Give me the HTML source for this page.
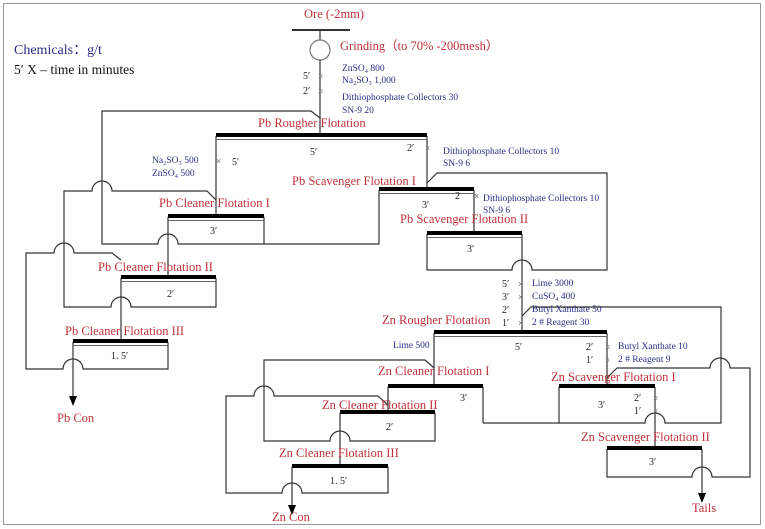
<!DOCTYPE html>
<html><head><meta charset="utf-8"><style>
html,body{margin:0;padding:0;background:#fff;}
svg{display:block;}
.r{fill:#c0303a;font-family:"Liberation Serif",serif;font-size:12.5px;}
.b{fill:#2b2b85;font-family:"Liberation Serif",serif;font-size:9.5px;}
.k{fill:#222;font-family:"Liberation Serif",serif;font-size:10px;}
.x{fill:#777;font-family:"Liberation Sans",sans-serif;font-size:9px;}
</style></head><body>
<svg width="765" height="529" viewBox="0 0 765 529" xmlns="http://www.w3.org/2000/svg">
<rect x="3.5" y="3.5" width="757" height="521" fill="#fff" stroke="#999" stroke-width="1"/>
<g fill="none" stroke="#333" stroke-width="1.2">
<line x1="292" y1="30" x2="350" y2="30" stroke-width="2"/>
<line x1="320" y1="30" x2="320" y2="40"/>
<circle cx="320" cy="50" r="10" stroke="#777"/>
<line x1="320" y1="60" x2="320" y2="136"/>
<line x1="216" y1="136" x2="216" y2="217"/>
<line x1="427" y1="136" x2="427" y2="190"/>
<path d="M320 118 L311 111 L102 111 L102 244 L158 244 A10 10 0 0 1 178 244 L379 244 L379 190"/>
<line x1="264" y1="217" x2="264" y2="244"/>
<line x1="168" y1="217" x2="168" y2="278"/>
<line x1="474" y1="190" x2="474" y2="234"/>
<path d="M427 183 L437 173 L607 173 L607 270 L532 270 A10 10 0 0 0 512 270 L427 270 L427 234"/>
<line x1="522" y1="234" x2="522" y2="333"/>
<path d="M216 200 L207 191 L112 191 A10 10 0 0 0 92 191 L64 191 L64 307 L111 307 A10 10 0 0 1 131 307 L216 307 L216 278"/>
<line x1="121" y1="278" x2="121" y2="342"/>
<path d="M121 260 L112 253 L74 253 A10 10 0 0 0 54 253 L26 253 L26 369 L63 369 A10 10 0 0 1 83 369 L168 369 L168 342"/>
<line x1="73" y1="342" x2="73" y2="398"/>
<line x1="434" y1="333" x2="434" y2="387"/>
<line x1="607" y1="333" x2="607" y2="387"/>
<path d="M522 316 L531 307 L721 307 L721 423 L665 423 A10 10 0 0 0 645 423 L559 423 L559 387"/>
<line x1="483" y1="387" x2="483" y2="423"/><line x1="483" y1="423" x2="559" y2="423"/>
<line x1="655" y1="387" x2="655" y2="449"/>
<path d="M607 378 L617 368 L710 368 A10 10 0 0 1 730 368 L750 368 L750 477 L712 477 A10 10 0 0 0 692 477 L607 477 L607 449"/>
<line x1="702" y1="449" x2="702" y2="495"/>
<path d="M434 368 L425 360 L264 360 L264 441 L330 441 A10 10 0 0 1 350 441 L435 441 L435 413"/>
<line x1="388" y1="387" x2="388" y2="413"/>
<line x1="340" y1="413" x2="340" y2="467"/>
<path d="M388 405 L378 396 L274 396 A10 10 0 0 0 254 396 L226 396 L226 493 L282 493 A10 10 0 0 1 302 493 L388 493 L388 467"/>
<line x1="292" y1="467" x2="292" y2="507"/>
</g>
<g fill="#000">
<rect x="216" y="133" width="211" height="4"/><rect x="216" y="139" width="211" height="1" fill="#666"/>
<rect x="379" y="187" width="95" height="4"/><rect x="379" y="193" width="95" height="1" fill="#666"/>
<rect x="168" y="214" width="96" height="4"/><rect x="168" y="220" width="96" height="1" fill="#666"/>
<rect x="427" y="231" width="95" height="4"/><rect x="427" y="237" width="95" height="1" fill="#666"/>
<rect x="121" y="275" width="95" height="4"/><rect x="121" y="281" width="95" height="1" fill="#666"/>
<rect x="73" y="339" width="95" height="4"/><rect x="73" y="345" width="95" height="1" fill="#666"/>
<rect x="434" y="330" width="173" height="4"/><rect x="434" y="336" width="173" height="1" fill="#666"/>
<rect x="388" y="384" width="95" height="4"/>
<rect x="559" y="384" width="96" height="4"/>
<rect x="340" y="410" width="95" height="4"/>
<rect x="607" y="446" width="95" height="4"/>
<rect x="292" y="464" width="96" height="4"/>
<polygon points="69,396 77,396 73,406"/>
<polygon points="288,505 296,505 292,515"/>
<polygon points="698,493 706,493 702,503"/>
</g>
<text x="14" y="54" style="font-family:'Liberation Serif',serif;font-size:14px;fill:#2b2b85">Chemicals：g/t</text>
<text x="14" y="74" style="font-family:'Liberation Serif',serif;font-size:13.5px;fill:#111">5′ X – time in minutes</text>
<text class="r" x="304" y="18">Ore (-2mm)</text>
<text class="r" x="340" y="50">Grinding（to 70% -200mesh）</text>
<text class="k" x="303" y="79">5′</text><text class="x" x="318" y="79">×</text>
<text class="k" x="303" y="94">2′</text><text class="x" x="318" y="94">×</text>
<text class="b" x="342" y="71">ZnSO₄  800</text>
<text class="b" x="342" y="83">Na₂SO₃  1,000</text>
<text class="b" x="342" y="100">Dithiophosphate Collectors 30</text>
<text class="b" x="342" y="113">SN-9  20</text>
<text class="r" x="258" y="127">Pb Rougher Flotation</text>
<text class="k" x="310" y="155">5′</text>
<text class="k" x="407" y="151">2′</text><text class="x" x="425" y="151">×</text>
<text class="b" x="443" y="154">Dithiophosphate Collectors 10</text>
<text class="b" x="443" y="166">SN-9   6</text>
<text class="b" x="152" y="163">Na₂SO₃ 500</text>
<text class="b" x="152" y="176">ZnSO₄ 500</text>
<text class="x" x="216" y="164">×</text><text class="k" x="232" y="165">5′</text>
<text class="r" x="292" y="185">Pb Scavenger Flotation I</text>
<text class="k" x="422" y="208">3′</text>
<text class="k" x="455" y="199">2</text><text class="x" x="474" y="199">×</text>
<text class="b" x="483" y="201">Dithiophosphate Collectors 10</text>
<text class="b" x="483" y="213">SN-9   6</text>
<text class="r" x="159" y="207">Pb Cleaner Flotation I</text>
<text class="k" x="210" y="234">3′</text>
<text class="r" x="400" y="223">Pb Scavenger Flotation II</text>
<text class="k" x="467" y="252">3′</text>
<text class="r" x="98" y="271">Pb Cleaner Flotation II</text>
<text class="k" x="167" y="297">2′</text>
<text class="r" x="65" y="335">Pb Cleaner Flotation III</text>
<text class="k" x="111" y="359">1. 5′</text>
<text class="r" x="57" y="422">Pb Con</text>
<text class="k" x="502" y="287">5′</text><text class="x" x="518" y="287">×</text><text class="b" x="532" y="286">Lime 3000</text>
<text class="k" x="502" y="300">3′</text><text class="x" x="518" y="300">×</text><text class="b" x="532" y="299">CuSO₄  400</text>
<text class="k" x="502" y="313">2′</text><text class="b" x="532" y="312">Butyl Xanthate 50</text>
<text class="k" x="502" y="326">1′</text><text class="x" x="518" y="326">×</text><text class="b" x="532" y="325">2 # Reagent 30</text>
<text class="r" x="382" y="324">Zn Rougher Flotation</text>
<text class="b" x="393" y="348">Lime 500</text>
<text class="k" x="515" y="350">5′</text>
<text class="k" x="586" y="350">2′</text><text class="x" x="605" y="350">×</text><text class="b" x="618" y="349">Butyl Xanthate 10</text>
<text class="k" x="586" y="363">1′</text><text class="x" x="605" y="363">×</text><text class="b" x="618" y="362">2 # Reagent 9</text>
<text class="r" x="378" y="375">Zn Cleaner Flotation I</text>
<text class="r" x="551" y="381">Zn Scavenger Flotation I</text>
<text class="k" x="460" y="401">3′</text>
<text class="k" x="598" y="408">3′</text>
<text class="k" x="634" y="401">2′</text><text class="x" x="653" y="401">×</text>
<text class="k" x="634" y="414">1′</text><text class="x" x="653" y="414">×</text>
<text class="r" x="322" y="409">Zn Cleaner Flotation II</text>
<text class="k" x="386" y="430">2′</text>
<text class="r" x="581" y="441">Zn Scavenger Flotation II</text>
<text class="k" x="649" y="465">3′</text>
<text class="r" x="279" y="457">Zn Cleaner Flotation III</text>
<text class="k" x="330" y="484">1. 5′</text>
<text class="r" x="272" y="521">Zn Con</text>
<text class="r" x="692" y="512">Tails</text>
</svg>
</body></html>
